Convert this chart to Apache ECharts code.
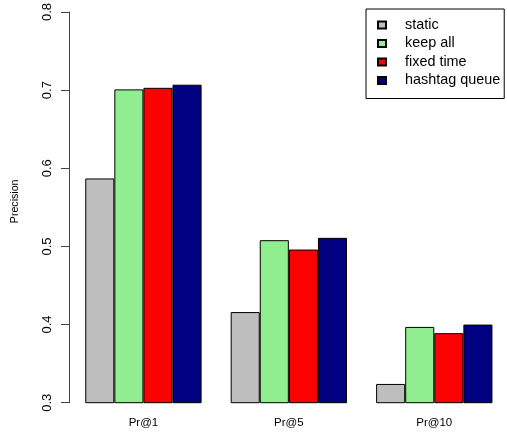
<!DOCTYPE html>
<html>
<head>
<meta charset="utf-8">
<script src="https://cdn.jsdelivr.net/npm/echarts@6/dist/echarts.min.js"></script>
<style>
  html, body { margin: 0; padding: 0; background: #fff; }
  #chart { width: 507px; height: 441px; }
</style>
</head>
<body>
<div id="chart"></div>
<script>
// Precision at cut-off k for four update strategies
var categories = ['Pr@1', 'Pr@5', 'Pr@10'];
var seriesNames = ['static', 'keep all', 'fixed time', 'hashtag queue'];
var staticVals = [0.587, 0.416, 0.324];
var keepAllVals = [0.701, 0.508, 0.397];
var fixedTimeVals = [0.703, 0.496, 0.389];
var hashtagQueueVals = [0.707, 0.511, 0.400];
var yTicks = [0.3, 0.4, 0.5, 0.6, 0.7, 0.8];

var colors = ['#BEBEBE', '#90EE90', '#FF0000', '#000080'];
var valueSets = [staticVals, keepAllVals, fixedTimeVals, hashtagQueueVals];
var font = 'Liberation Sans, Arial, Helvetica, sans-serif';

var chart = echarts.init(document.getElementById('chart'), null, { renderer: 'canvas' });

var series = seriesNames.map(function (name, i) {
  return {
    name: name,
    type: 'bar',
    data: valueSets[i],
    barGap: '0%',
    barCategoryGap: '20%',
    itemStyle: { color: colors[i], borderColor: '#000', borderWidth: 1 },
    emphasis: { disabled: true }
  };
});

chart.setOption({
  animation: false,
  backgroundColor: '#fff',
  textStyle: { fontFamily: font },
  grid: { left: 70.7, width: 437, top: 7.3, bottom: 38.3, containLabel: false },
  legend: {
    data: seriesNames,
    orient: 'vertical',
    left: 366,
    top: 9,
    padding: [9, 4, 11, 11],
    itemGap: 4.5,
    itemWidth: 8,
    itemHeight: 7,
    borderColor: '#000',
    borderWidth: 1,
    icon: 'rect',
    textStyle: { fontFamily: font, fontSize: 14.4, color: '#000', padding: [0, 0, 0, 14] },
    selectedMode: false
  },
  xAxis: {
    type: 'category',
    data: categories,
    axisLine: { show: false },
    axisTick: { show: false },
    axisLabel: { fontFamily: font, fontSize: 11.5, color: '#000', margin: 14 }
  },
  yAxis: {
    type: 'value',
    min: yTicks[0],
    max: yTicks[yTicks.length - 1],
    interval: 0.1,
    offset: 1.7,
    name: 'Precision',
    nameLocation: 'middle',
    nameRotate: 90,
    nameGap: 48,
    nameTextStyle: { fontFamily: font, fontSize: 10.6, color: '#000', padding: [0, 0, 0, 12] },
    axisLine: { show: true, lineStyle: { color: '#444', width: 1 } },
    axisTick: { show: true, length: 8, lineStyle: { color: '#444', width: 1 } },
    axisLabel: {
      rotate: 90,
      fontFamily: font,
      fontSize: 13,
      color: '#000',
      margin: 15,
      formatter: function (v) { return v.toFixed(1); }
    },
    splitLine: { show: false }
  },
  series: series
});
</script>
</body>
</html>
